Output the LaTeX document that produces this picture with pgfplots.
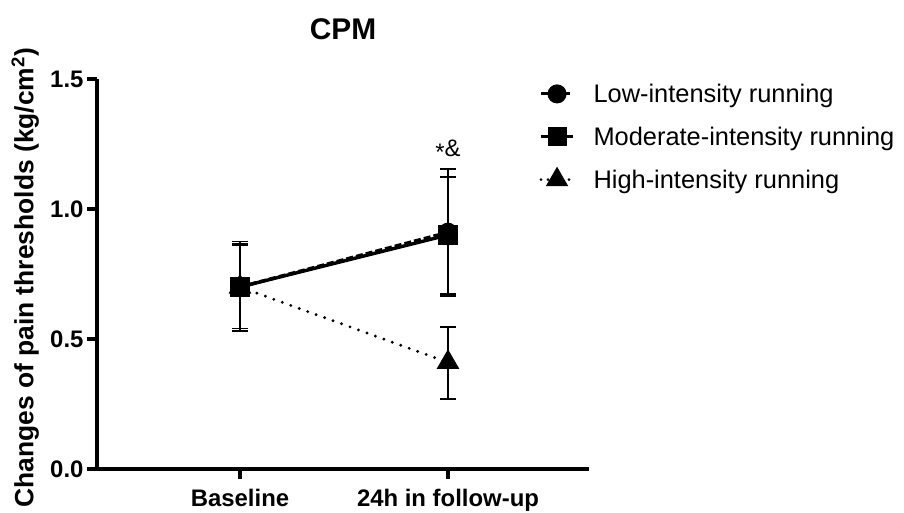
\documentclass[border=0pt]{standalone}
\usepackage{pgfplots}
\pgfplotsset{compat=1.18}
\usepackage{fontspec}
\setmainfont{Liberation Sans}

\begin{document}
\begin{tikzpicture}
\useasboundingbox (-97bp,-44bp) rectangle (807bp,469bp);
\begin{axis}[
  at={(0,0)}, anchor=south west,
  scale only axis, width=492bp, height=390bp,
  xmin=-0.6875, xmax=1.678, ymin=0, ymax=1.5,
  axis x line*=bottom, axis y line*=left,
  axis line style={line width=3.5bp, -},
  tick align=outside, major tick length=10bp,
  tick style={line width=3.5bp, black},
  xtick={0,1}, xticklabels={Baseline, 24h in follow-up},
  ytick={0,0.5,1,1.5},
  /pgf/number format/assume math mode=true,
  yticklabel style={/pgf/number format/fixed, /pgf/number format/fixed zerofill, /pgf/number format/precision=1},
  xticklabel style={yshift=-7bp},
  tick label style={font=\fontsize{24}{28}\selectfont\bfseries},
  ylabel={Changes of pain thresholds (kg/cm\textsuperscript{2})},
  ylabel style={at={(axis description cs:-0.146,0.49)}, anchor=center, font=\fontsize{26.5}{30}\selectfont\bfseries},
  title={CPM},
  title style={at={(axis description cs:0.5,1)}, anchor=center, yshift=44bp, font=\fontsize{30}{36}\selectfont\bfseries},
  legend style={at={(axis description cs:0.893,0.998)}, anchor=north west, draw=none, fill=none,
    font=\fontsize{25.5}{30}\selectfont, row sep=19bp, cells={anchor=west},
    /tikz/every odd column/.append style={column sep=17bp}},
  legend image code/.code={\draw[mark repeat=2,mark phase=2,#1] plot coordinates {(0bp,0bp)(16bp,0bp)(32bp,0bp)};},
  clip=false,
]
% legend entries
\addlegendimage{black, line width=3bp, dash pattern=on 7bp off 4bp, mark=*, mark size=8bp, mark options={solid}}
\addlegendentry{Low-intensity running}
\addlegendimage{black, line width=3bp, mark=square*, mark size=8bp, mark options={solid}}
\addlegendentry{Moderate-intensity running}
\addlegendimage{black, line width=3bp, dash pattern=on 0bp off 7bp, line cap=round, mark=triangle*, mark size=10bp, mark options={solid}}
\addlegendentry{High-intensity running}

% High
\addplot[forget plot, black, line width=3.2bp, dash pattern=on 0bp off 9bp, line cap=round,
  mark=triangle*, mark size=10bp, mark options={solid},
  error bars/.cd, y dir=both, y explicit,
  error bar style={solid, line width=1.8bp, line cap=butt},
  error mark options={rotate=90, mark size=8bp, line width=1.8bp, solid}]
coordinates {(0,0.70) += (0,0.165) -= (0,0.16) (1,0.41) += (0,0.135) -= (0,0.14)};
% Low
\addplot[forget plot, black, line width=3.4bp, dash pattern=on 7bp off 3bp,
  mark=*, mark size=8bp, mark options={solid},
  error bars/.cd, y dir=both, y explicit,
  error bar style={solid, line width=1.8bp},
  error mark options={rotate=90, mark size=8bp, line width=1.8bp, solid}]
coordinates {(0,0.70) += (0,0.175) -= (0,0.16) (1,0.91) += (0,0.245) -= (0,0.245)};
% Moderate
\addplot[forget plot, black, line width=3.4bp,
  mark=square*, mark size=8bp, mark options={solid},
  error bars/.cd, y dir=both, y explicit,
  error bar style={solid, line width=1.8bp},
  error mark options={rotate=90, mark size=8bp, line width=1.8bp, solid}]
coordinates {(0,0.70) += (0,0.16) -= (0,0.17) (1,0.90) += (0,0.223) -= (0,0.227)};

\node[font=\fontsize{24}{28}\selectfont] at (axis cs:1,1.225) {\raisebox{-4bp}{*}\&};
\end{axis}
\end{tikzpicture}
\end{document}
